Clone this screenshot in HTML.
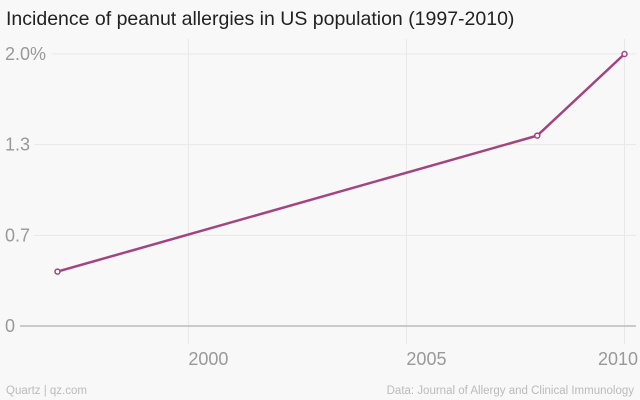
<!DOCTYPE html>
<html><head><meta charset="utf-8"><style>
body{margin:0;background:#f8f8f8;}
svg{display:block;font-family:"Liberation Sans",sans-serif;}
</style></head><body>
<svg width="640" height="400">
<rect width="640" height="400" fill="#f8f8f8"/>
<text x="6" y="25" font-size="19.5" fill="#222">Incidence of peanut allergies in US population (1997-2010)</text>
<g id="grid"></g><g id="series"></g>
<text x="6" y="394" font-size="11.5" fill="#bbb">Quartz | qz.com</text>
<text x="634" y="394" font-size="11.5" fill="#bbb" text-anchor="end">Data: Journal of Allergy and Clinical Immunology</text>
</svg>
<script>
const years=[1997,2008,2010];
const values=[0.4,1.4,2.0];
const yTicks=[0,0.6667,1.3333,2.0];
const yTickLabels=["0","0.7","1.3","2.0%"];
const xTicks=[2000,2005,2010];
const NS="http://www.w3.org/2000/svg";
const x=v=>57.5+(v-1997)*(624.5-57.5)/13;
const y=v=>326-v*136;
const g=document.getElementById('grid'),s=document.getElementById('series');
function mk(tag,attrs,parent){const e=document.createElementNS(NS,tag);for(const k in attrs)e.setAttribute(k,attrs[k]);parent.appendChild(e);return e;}
xTicks.forEach(t=>{
 const l=mk('line',{x1:x(t),x2:x(t),y1:39,y2:344,stroke:'#e8e8e8','stroke-width':1},g);
 
 
 const tx=mk('text',{x:t===2010?638:x(t),y:365,'font-size':18,fill:'#999','text-anchor':t===2010?'end':'start'},g);
 tx.textContent=t;
 
 
});
yTicks.forEach((t,i)=>{
 const lab=yTickLabels[i];
 const startX=lab.length>=4?52:(lab.length===3?34:20);
 const l=mk('line',{x1:startX,x2:636,y1:y(t),y2:y(t),stroke:i===0?'#bbb':'#e8e8e8','stroke-width':i===0?1.5:1},g);
 
 
 const tx=mk('text',{x:5,y:y(t)+6,'font-size':18,fill:'#999'},g);
 tx.textContent=lab;
 
 
});
const pl=mk('polyline',{points:years.map((yr,i)=>x(yr)+','+y(values[i])).join(' '),fill:'none',stroke:'#a4447f','stroke-width':2.5},s);


years.forEach((yr,i)=>{
 const c=mk('circle',{cx:x(yr),cy:y(values[i]),r:2.5,fill:'#fff',stroke:'#a4447f','stroke-width':1.5},s);
 
 
});
</script>
</body></html>
